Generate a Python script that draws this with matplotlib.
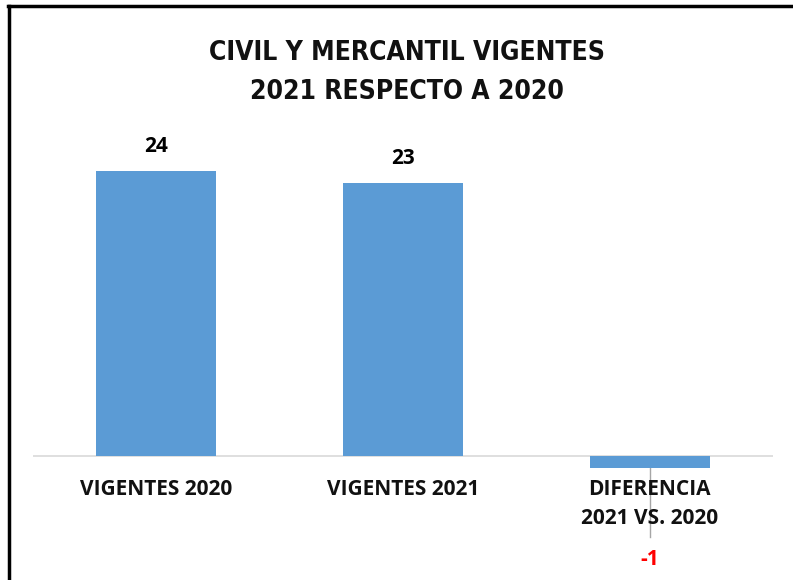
import matplotlib
matplotlib.use('Agg')
import matplotlib.pyplot as plt
from matplotlib.lines import Line2D

# data
categorias = ['VIGENTES 2020', 'VIGENTES 2021', 'DIFERENCIA\n2021 VS. 2020']
valores = [24, 23, -1]
titulo = 'CIVIL Y MERCANTIL VIGENTES\n2021 RESPECTO A 2020'

azul = '#5B9BD5'
fuente = ['Open Sans', 'DejaVu Sans']

W, H = 793, 580
fig = plt.figure(figsize=(W / 100, H / 100), dpi=100)

# axes placed in pixels: x 33..773, y 130..570 (top-down)
ax = fig.add_axes([33 / W, (H - 570) / H, 740 / W, 440 / H])
px_unit = 11.875
base_px = 456
ax.set_xlim(-0.5, 2.5)
ax.set_ylim(-(570 - base_px) / px_unit, (base_px - 130) / px_unit)
ax.axis('off')

def u(px):
    # pixel row -> data units
    return (base_px - px) / px_unit

x = list(range(len(valores)))
ax.bar(x, valores, width=0.486, color=azul, zorder=2)
ax.axhline(0, color='#d9d9d9', lw=1.2, zorder=1)

for xi, v in zip(x, valores):
    if v >= 0:
        ax.text(xi, v + 19 / px_unit, str(v), ha='center', va='baseline', fontsize=15,
                fontweight='bold', family=fuente, color='black')
    else:
        ax.text(xi, u(565), str(v), ha='center', va='baseline', fontsize=15,
                fontweight='bold', family=fuente, color='#ff0000')
        # leader line
        ax.plot([xi, xi], [v, u(537)], color='#a6a6a6', lw=1, zorder=1)

for xi, c in zip(x, categorias):
    for k, linea in enumerate(c.split('\n')):
        ax.text(xi, u(495 + 29 * k), linea, ha='center', va='baseline', fontsize=15,
                fontweight='bold', family=fuente, color='#111111')

for k, linea in enumerate(titulo.split('\n')):
    fig.text(407 / W, 1 - (60 + 39 * k) / H, linea, ha='center', va='baseline',
             fontsize=19, fontweight='bold', fontstretch='condensed',
             family=['DejaVu Sans'], color='#111111')

# partial frame (top and left edges)
fig.add_artist(Line2D([8 / W, 1], [1 - 6 / H, 1 - 6 / H], color='black', lw=2.5))
fig.add_artist(Line2D([9 / W, 9 / W], [0, 1 - 6 / H], color='black', lw=2.5))

fig.savefig('out.png', dpi=100)
